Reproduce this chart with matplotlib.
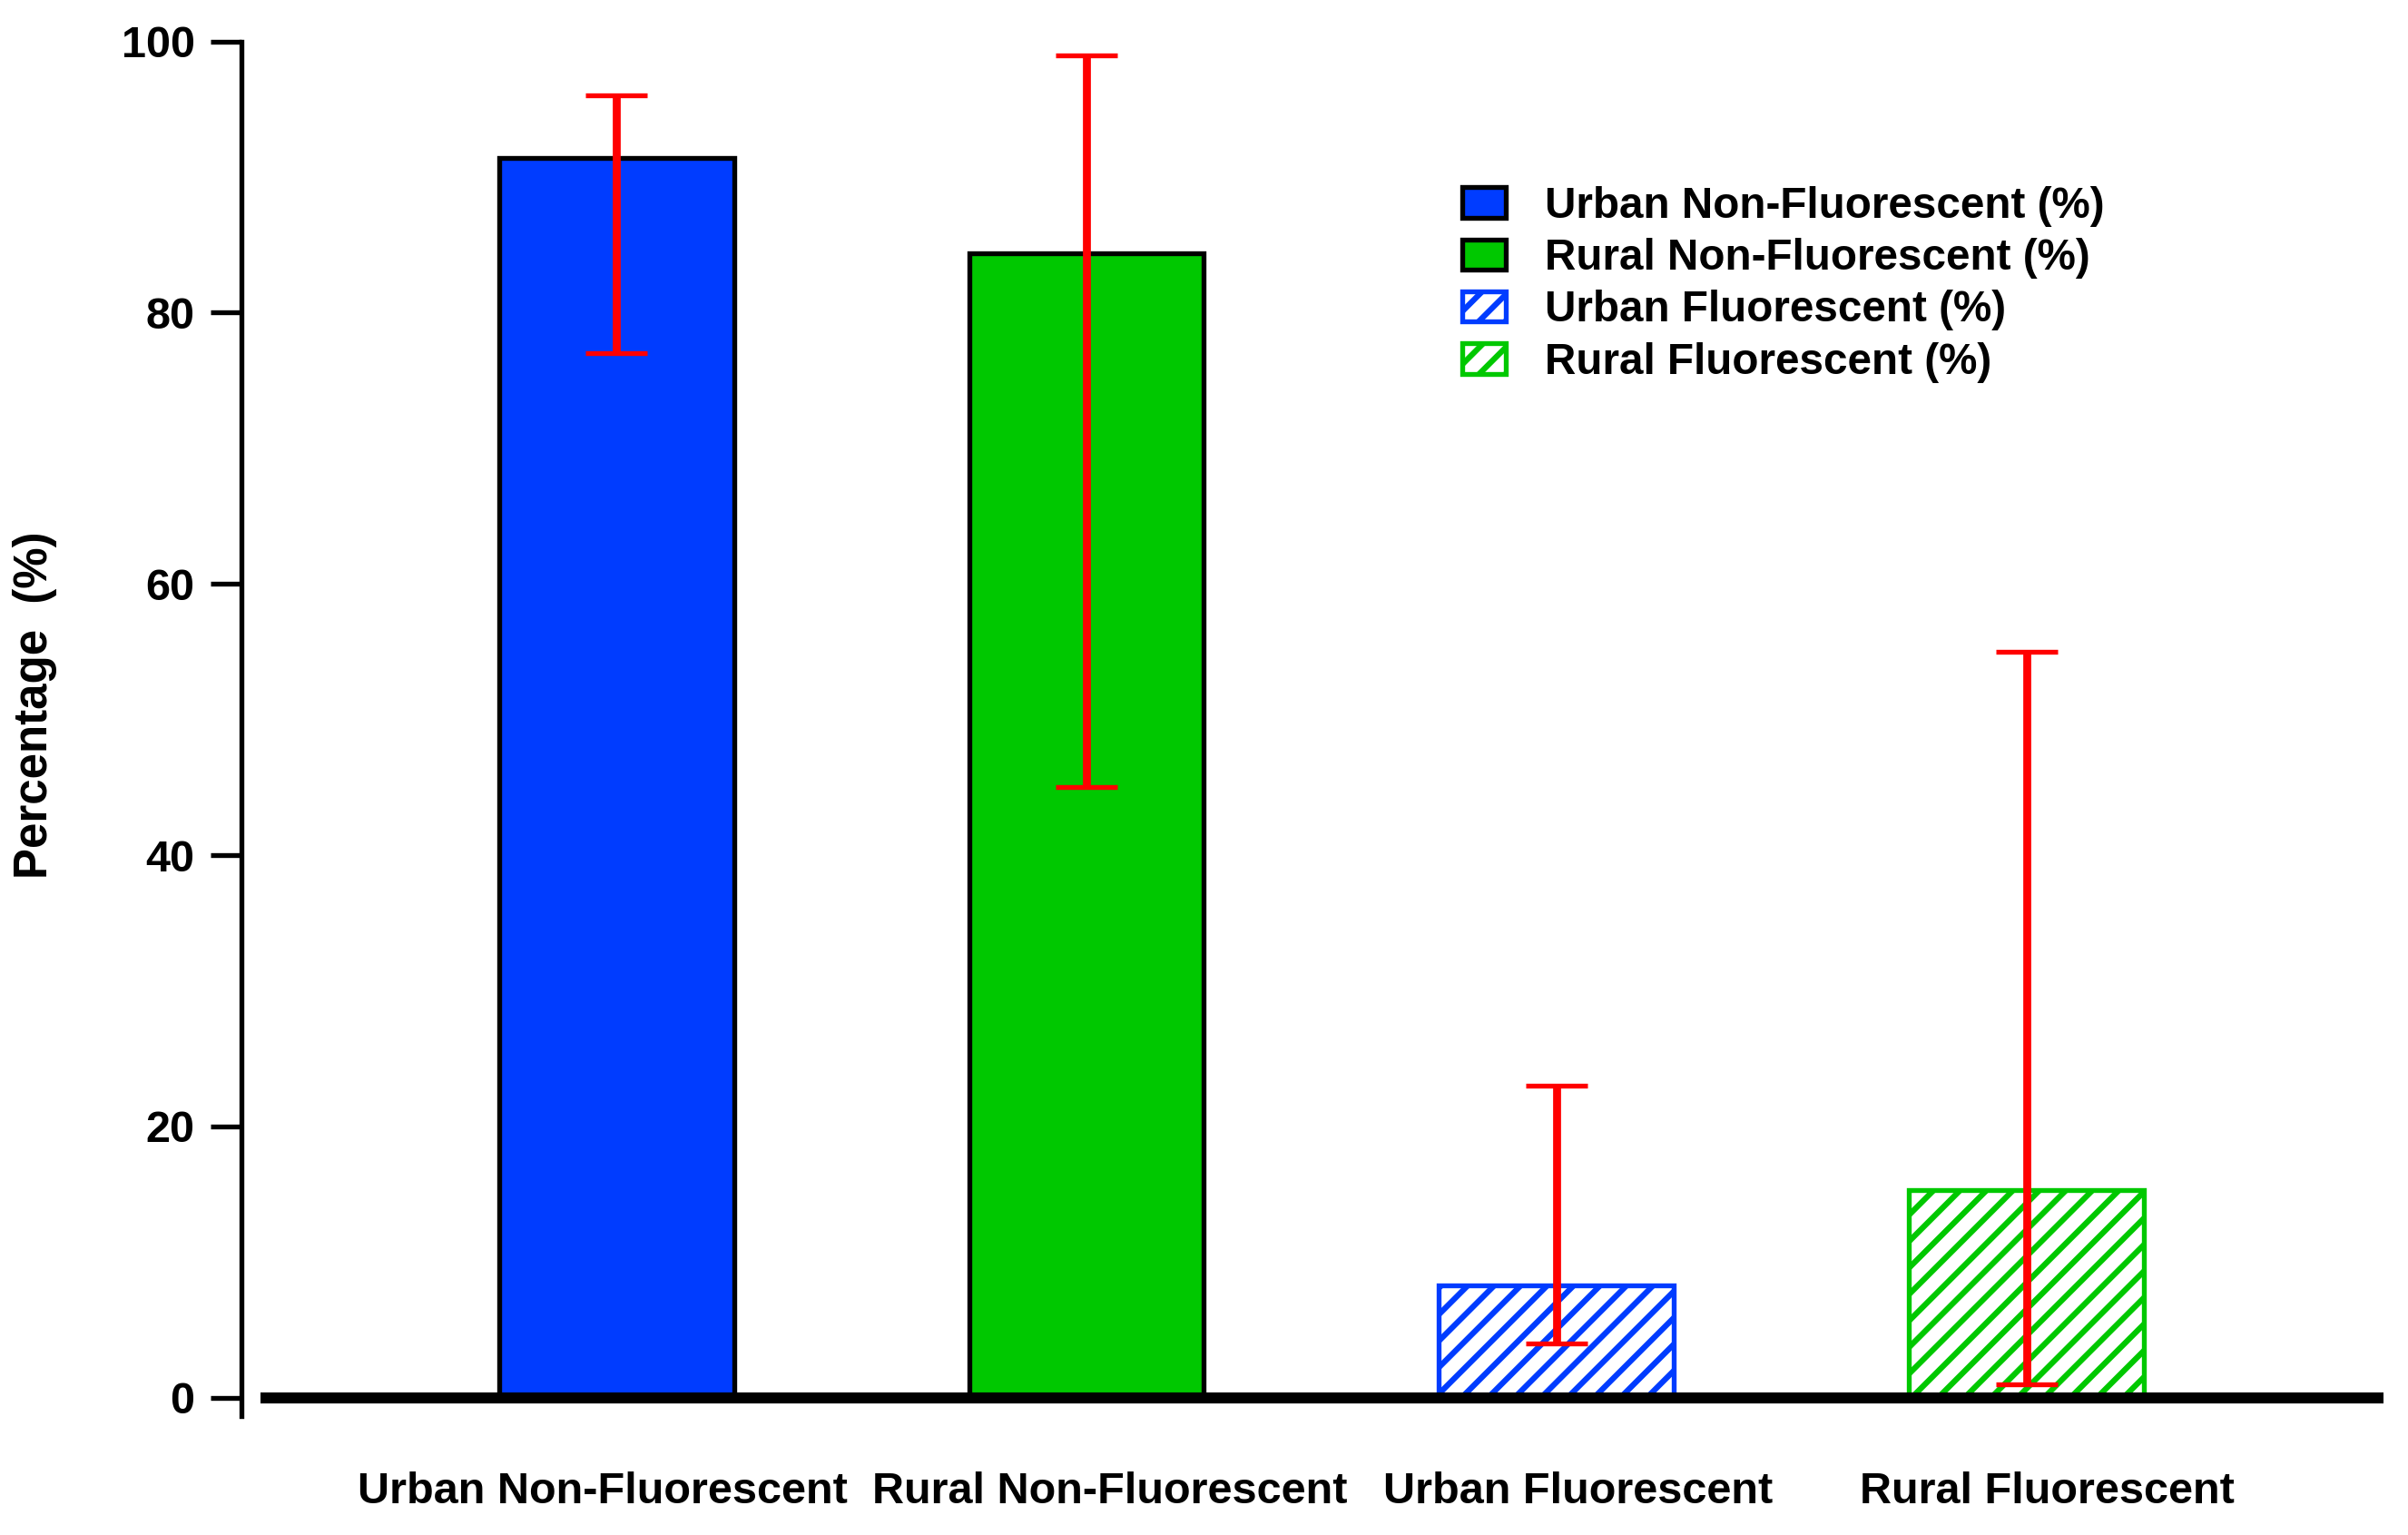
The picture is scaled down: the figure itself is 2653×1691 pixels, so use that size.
import matplotlib.pyplot as plt

categories = ['Urban Non-Fluorescent', 'Rural Non-Fluorescent',
              'Urban Fluorescent', 'Rural Fluorescent']
legend_labels = ['Urban Non-Fluorescent (%)', 'Rural Non-Fluorescent (%)',
                 'Urban Fluorescent (%)', 'Rural Fluorescent (%)']
values = [91.4, 84.4, 8.3, 15.3]
err_lower = [77.0, 45.0, 4.0, 1.0]
err_upper = [96.0, 99.0, 23.0, 55.0]

blue = '#003cff'
green = '#00c800'

plt.rcParams['font.family'] = ['Liberation Sans', 'DejaVu Sans']
plt.rcParams['font.weight'] = 'bold'
plt.rcParams['hatch.linewidth'] = 2.6

fig = plt.figure(figsize=(2653 / 175, 1691 / 175), dpi=175)
ax = fig.add_axes([0.1001, 0.0775, 0.8884, 0.8955])

x = list(range(len(categories)))
styles = [
    dict(color=blue, edgecolor='black', hatch=None),
    dict(color=green, edgecolor='black', hatch=None),
    dict(color='white', edgecolor=blue, hatch='//'),
    dict(color='white', edgecolor=green, hatch='//'),
]
for i in x:
    ax.bar(x[i], values[i], width=0.5, linewidth=2.2, label=legend_labels[i],
           zorder=2, **styles[i])

yerr = [[values[i] - err_lower[i] for i in x],
        [err_upper[i] - values[i] for i in x]]
ax.errorbar(x, values, yerr=yerr, fmt='none', ecolor='red', elinewidth=3.6,
            capsize=14, capthick=2.2, zorder=3)

# thick baseline at zero
ax.plot([-0.757, 3.76], [0, 0], color='black', linewidth=5, zorder=4,
        solid_capstyle='butt', clip_on=False)

ax.set_xlim(-0.799, 3.753)
ax.set_ylim(-1.36, 100)
ax.set_yticks([0, 20, 40, 60, 80, 100])

# labels in the original sit a little off the bar centres
label_shift = [-0.03, 0.05, 0.045, 0.045]
ax.set_xticks([x[i] + label_shift[i] for i in x])
ax.set_xticklabels(categories)

for s in ['top', 'right', 'bottom']:
    ax.spines[s].set_visible(False)
ax.spines['left'].set_linewidth(2.2)

ax.tick_params(axis='y', length=14, width=2.2, pad=7, labelsize=20)
ax.tick_params(axis='x', length=0, pad=25, labelsize=20)

ax.set_ylabel('Percentage  (%)', fontsize=21, fontweight='bold')
ax.yaxis.set_label_coords(-0.086, 0.517)

ax.legend(loc='upper left', bbox_to_anchor=(0.571, 0.895), frameon=False,
          fontsize=19.6, handlelength=1.0, handleheight=0.7, handletextpad=0.9,
          labelspacing=0.26, borderpad=0, borderaxespad=0)

plt.savefig('out.png', dpi=175)
